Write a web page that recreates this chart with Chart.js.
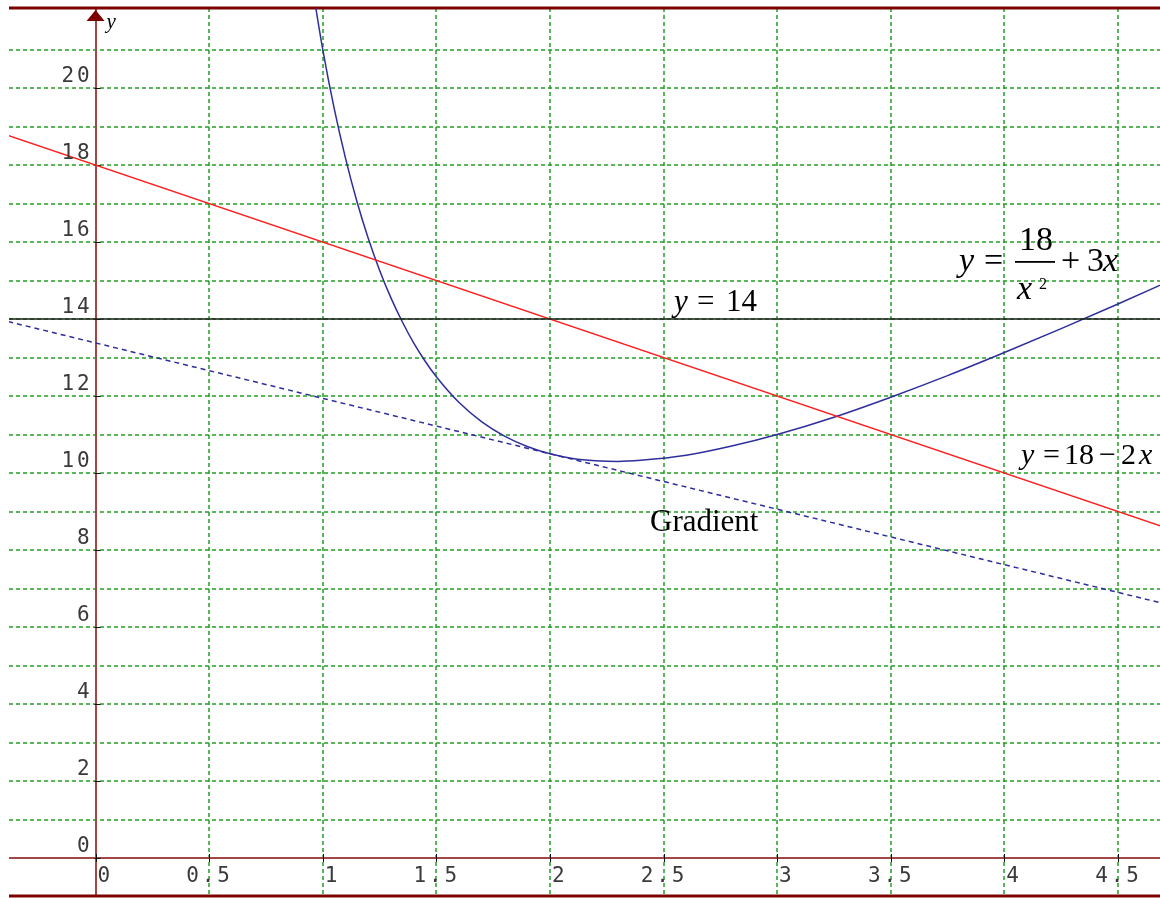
<!DOCTYPE html>
<html>
<head>
<meta charset="utf-8">
<script src="https://cdn.jsdelivr.net/npm/chart.js@4.4.0/dist/chart.umd.min.js"></script>
<style>
  html, body { margin: 0; padding: 0; background: #ffffff; }
  #wrap { width: 1160px; height: 898px; position: relative; }
</style>
</head>
<body>
<div id="wrap"><canvas id="graph" width="1160" height="898"></canvas></div>
<script>
// y = 18 - 2x
const redLineX = [-0.5, 5.0];
const redLineY = [19, 8];

// y = 14
const levelX = [-0.5, 5.0];
const levelY = [14, 14];

// y = 18/x^2 + 3x
const curveX = [0.95, 1.0, 1.05, 1.1, 1.15, 1.2, 1.25, 1.3, 1.35, 1.4, 1.45, 1.5, 1.6, 1.7, 1.8, 1.9, 2.0,
                2.1, 2.2, 2.3, 2.4, 2.6, 2.8, 3.0, 3.25, 3.5, 3.75, 4.0, 4.25, 4.5, 4.75];
const curveY = [22.79, 21.0, 19.48, 18.18, 17.06, 16.10, 15.27, 14.55, 13.93, 13.38, 12.91, 12.50, 11.83, 11.33, 10.96, 10.69, 10.50,
                10.38, 10.32, 10.30, 10.33, 10.46, 10.70, 11.00, 11.45, 11.97, 12.53, 13.13, 13.75, 14.39, 15.05];

// tangent ("Gradient") through (2, 10.5)
const tangentX = [-0.5, 5.0];
const tangentY = [14.10, 6.18];

// grid and tick labels
const xGrid = [0, 0.5, 1, 1.5, 2, 2.5, 3, 3.5, 4, 4.5];
const yGrid = [0, 1, 2, 3, 4, 5, 6, 7, 8, 9, 10, 11, 12, 13, 14, 15, 16, 17, 18, 19, 20, 21];
const xTickValues = [0, 0.5, 1, 1.5, 2, 2.5, 3, 3.5, 4, 4.5];
const xTickLabels = ['0', '0.5', '1', '1.5', '2', '2.5', '3', '3.5', '4', '4.5'];
const yTickValues = [0, 2, 4, 6, 8, 10, 12, 14, 16, 18, 20];
const yTickLabels = ['0', '2', '4', '6', '8', '10', '12', '14', '16', '18', '20'];

const pts = (xs, ys) => xs.map((x, i) => ({ x: x, y: ys[i] }));

const GRID_GREEN = '#22a022';
const AXIS_RED = '#a34646';
const FRAME_RED = '#7c0000';
const MONO = '21px "DejaVu Sans Mono"';
const PITCH = 15.5;

function monoText(ctx, str, left, baseline) {
  ctx.textAlign = 'center';
  for (let i = 0; i < str.length; i++) {
    ctx.fillText(str[i], left + PITCH * (i + 0.5), baseline);
  }
}

function run(ctx, text, x, y, font) {
  ctx.font = font;
  ctx.textAlign = 'left';
  ctx.fillText(text, x, y);
}

// grid, axes, frame, arrow and tick marks under the curves
const frame = {
  id: 'frame',
  beforeDatasetsDraw(chart) {
    const { ctx, chartArea: a, scales: { x: xs, y: ys } } = chart;
    const x0 = xs.getPixelForValue(0);
    const y0 = ys.getPixelForValue(0);
    ctx.save();

    // dashed grid
    ctx.strokeStyle = GRID_GREEN;
    ctx.lineWidth = 1.5;
    ctx.setLineDash([4, 3]);
    ctx.beginPath();
    xGrid.forEach(v => {
      const px = Math.round(xs.getPixelForValue(v));
      ctx.moveTo(px, a.top); ctx.lineTo(px, a.bottom);
    });
    yGrid.forEach(v => {
      const py = Math.round(ys.getPixelForValue(v));
      ctx.moveTo(a.left, py); ctx.lineTo(a.right, py);
    });
    ctx.stroke();
    ctx.setLineDash([]);

    // axes
    ctx.strokeStyle = AXIS_RED;
    ctx.lineWidth = 2;
    ctx.beginPath();
    ctx.moveTo(Math.round(x0), a.top); ctx.lineTo(Math.round(x0), a.bottom);
    ctx.moveTo(a.left, Math.round(y0)); ctx.lineTo(a.right, Math.round(y0));
    ctx.stroke();

    // tick marks
    ctx.strokeStyle = '#111';
    ctx.lineWidth = 1;
    ctx.beginPath();
    xTickValues.forEach(v => {
      const px = Math.round(xs.getPixelForValue(v)) + 0.5;
      ctx.moveTo(px, y0 - 4); ctx.lineTo(px, y0 + 4);
    });
    yTickValues.forEach(v => {
      const py = Math.round(ys.getPixelForValue(v)) + 0.5;
      ctx.moveTo(x0 - 1, py); ctx.lineTo(x0 + 5, py);
    });
    ctx.stroke();

    // frame top and bottom
    ctx.strokeStyle = FRAME_RED;
    ctx.lineWidth = 3;
    ctx.beginPath();
    ctx.moveTo(a.left, a.top); ctx.lineTo(a.right, a.top);
    ctx.moveTo(a.left, a.bottom - 1); ctx.lineTo(a.right, a.bottom - 1);
    ctx.stroke();

    // arrow head on the y axis
    ctx.fillStyle = FRAME_RED;
    ctx.beginPath();
    ctx.moveTo(x0, a.top + 2);
    ctx.lineTo(x0 - 9, a.top + 13);
    ctx.lineTo(x0 + 9, a.top + 13);
    ctx.closePath();
    ctx.fill();
    ctx.restore();
  },
  afterDatasetsDraw(chart) {
    const { ctx, scales: { x: xs, y: ys } } = chart;
    const x0 = xs.getPixelForValue(0);
    const y0 = ys.getPixelForValue(0);
    ctx.save();
    ctx.fillStyle = '#3a3a3a';
    ctx.font = MONO;
    ctx.textBaseline = 'alphabetic';
    xTickValues.forEach((v, i) => {
      const s = xTickLabels[i];
      const px = xs.getPixelForValue(v);
      const left = s.indexOf('.') >= 0 ? px - 1 - PITCH * s.length / 2 : px + 0.5;
      monoText(ctx, s, left, y0 + 24);
    });
    yTickValues.forEach((v, i) => {
      const s = yTickLabels[i];
      const py = ys.getPixelForValue(v);
      monoText(ctx, s, 91 - PITCH * s.length, py - 6.5);
    });

    ctx.fillStyle = '#000';
    // axis name
    run(ctx, 'y', x0 + 11, 28, 'italic 21px "Liberation Serif"');

    // y = 14
    const F1 = '31px "Liberation Serif"', F1i = 'italic 31px "Liberation Serif"';
    run(ctx, 'y', 674, 311, F1i);
    run(ctx, '=', 697, 311, F1);
    run(ctx, '14', 726, 311, F1);

    // y = 18 - 2x
    const F3 = '30px "Liberation Serif"', F3i = 'italic 30px "Liberation Serif"';
    run(ctx, 'y', 1021, 464, F3i);
    run(ctx, '=', 1043, 464, F3);
    run(ctx, '18', 1064, 464, F3);
    run(ctx, '\u2212', 1099, 464, F3);
    run(ctx, '2', 1121, 464, F3);
    run(ctx, 'x', 1139, 464, F3i);

    // y = 18/x^2 + 3x
    const F2 = '34px "Liberation Serif"', F2i = 'italic 34px "Liberation Serif"';
    run(ctx, 'y', 959, 271, F2i);
    run(ctx, '=', 984, 271, F2);
    run(ctx, '18', 1019, 250, F2);
    ctx.fillRect(1015, 261, 40, 1.8);
    run(ctx, 'x', 1017, 299, F2i);
    run(ctx, '2', 1039, 289, '16px "Liberation Serif"');
    run(ctx, '+', 1061, 271, F2);
    run(ctx, '3', 1087, 271, F2);
    run(ctx, 'x', 1103, 271, F2i);

    // tangent label
    run(ctx, 'Gradient', 650, 531, '31px "Liberation Serif"');
    ctx.restore();
  }
};

new Chart(document.getElementById('graph'), {
  type: 'scatter',
  data: {
    datasets: [
      { label: 'y = 14', data: pts(levelX, levelY), showLine: true, borderColor: '#1c1c1c', borderWidth: 1.5, pointRadius: 0 },
      { label: 'Gradient', data: pts(tangentX, tangentY), showLine: true, borderColor: '#2e2e9c', borderWidth: 1.5, borderDash: [5, 4], pointRadius: 0 },
      { label: 'y = 18 - 2x', data: pts(redLineX, redLineY), showLine: true, borderColor: '#ff1c1c', borderWidth: 1.5, pointRadius: 0 },
      { label: 'y = 18/x^2 + 3x', data: pts(curveX, curveY), showLine: true, borderColor: '#2e2e9c', borderWidth: 1.5, pointRadius: 0, cubicInterpolationMode: 'monotone' }
    ]
  },
  options: {
    responsive: false,
    devicePixelRatio: 1,
    animation: false,
    layout: { padding: { left: 9, top: 8, right: 0, bottom: 1 } },
    plugins: { legend: { display: false }, tooltip: { enabled: false } },
    scales: {
      x: {
        type: 'linear', min: -0.381, max: 4.685,
        afterBuildTicks: s => { s.ticks = xGrid.map(v => ({ value: v })); },
        ticks: { display: false },
        grid: { display: false, drawTicks: false },
        border: { display: false }
      },
      y: {
        type: 'linear', min: -1.013, max: 22.08,
        afterBuildTicks: s => { s.ticks = yGrid.map(v => ({ value: v })); },
        ticks: { display: false },
        grid: { display: false, drawTicks: false },
        border: { display: false }
      }
    }
  },
  plugins: [frame]
});
</script>
</body>
</html>
